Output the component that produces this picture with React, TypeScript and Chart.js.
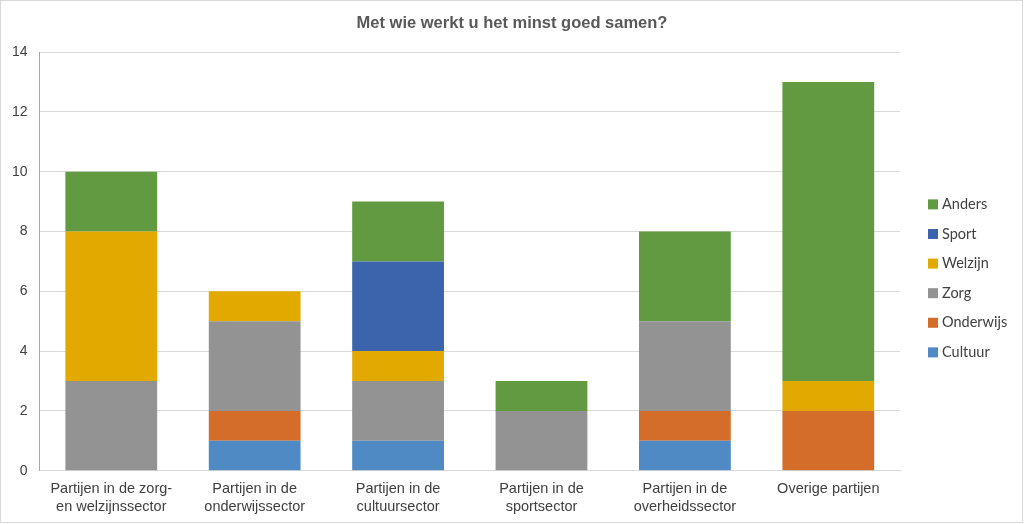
import React, { useEffect, useRef } from "react";
import { Chart, registerables } from "chart.js";

Chart.register(...registerables);

const categories: (string | string[])[] = [
  ["Partijen in de zorg-", "en welzijnssector"],
  ["Partijen in de", "onderwijssector"],
  ["Partijen in de", "cultuursector"],
  ["Partijen in de", "sportsector"],
  ["Partijen in de", "overheidssector"],
  "Overige partijen",
];

const cultuur = [0, 1, 1, 0, 1, 0];
const onderwijs = [0, 1, 0, 0, 1, 2];
const zorg = [3, 3, 2, 2, 3, 0];
const welzijn = [5, 1, 1, 0, 0, 1];
const sport = [0, 0, 3, 0, 0, 0];
const anders = [2, 0, 2, 1, 3, 10];

const title = "Met wie werkt u het minst goed samen?";

const borderPlugin = {
  id: "outerBorder",
  afterDraw(chart: any) {
    const ctx = chart.ctx;
    ctx.save();
    ctx.strokeStyle = "#d9d9d9";
    ctx.lineWidth = 1;
    ctx.strokeRect(0.5, 0.5, chart.width - 2, chart.height - 2);
    ctx.restore();
  },
};

const titlePlugin = {
  id: "centerTitle",
  afterDraw(chart: any) {
    const ctx = chart.ctx;
    ctx.save();
    ctx.font = "bold 16.5px 'Liberation Sans', Arial";
    ctx.fillStyle = "#595959";
    ctx.textAlign = "center";
    ctx.textBaseline = "middle";
    ctx.fillText(title, chart.width / 2, 23);
    ctx.restore();
  },
};

const legendPlugin = {
  id: "sideLegend",
  afterDraw(chart: any) {
    const ctx = chart.ctx;
    const area = chart.chartArea;
    const items = chart.data.datasets.slice().reverse();
    const spacing = 29.6;
    const centerY = (area.top + area.bottom) / 2 + 17;
    const startY = centerY - ((items.length - 1) * spacing) / 2;
    const x = area.right + 28;
    ctx.save();
    ctx.font = "14.5px Lato, 'Open Sans', sans-serif";
    ctx.textBaseline = "middle";
    ctx.textAlign = "left";
    items.forEach((ds: any, i: number) => {
      const y = startY + i * spacing;
      ctx.fillStyle = ds.backgroundColor;
      ctx.fillRect(x, y - 5, 10, 10);
      ctx.fillStyle = "#404040";
      ctx.fillText(ds.label, x + 14, y);
    });
    ctx.restore();
  },
};

export default function App() {
  const ref = useRef<HTMLCanvasElement>(null);
  useEffect(() => {
    if (!ref.current) return;
    const mk = (label: string, data: number[], color: string) => ({
      label,
      data,
      backgroundColor: color,
      borderWidth: 0,
      barPercentage: 0.64,
      categoryPercentage: 1,
    });
    const chart = new Chart(ref.current, {
      type: "bar",
      data: {
        labels: categories,
        datasets: [
          mk("Cultuur", cultuur, "#4f8ac4"),
          mk("Onderwijs", onderwijs, "#d46c2a"),
          mk("Zorg", zorg, "#939393"),
          mk("Welzijn", welzijn, "#e2aa00"),
          mk("Sport", sport, "#3b64ad"),
          mk("Anders", anders, "#629a41"),
        ],
      },
      options: {
        animation: false,
        responsive: false,
        layout: { padding: { left: 0, right: 124, top: 52, bottom: 7 } },
        plugins: {
          title: { display: false },
          legend: { display: false },
          tooltip: { enabled: false },
        },
        scales: {
          x: {
            stacked: true,
            grid: { display: false },
            border: { color: "#d9d9d9" },
            ticks: {
              color: "#404040",
              font: { family: "'Liberation Sans', Arial", size: 14.5, lineHeight: 1.25 },
              maxRotation: 0,
              autoSkip: false,
              padding: 1,
            },
          },
          y: {
            stacked: true,
            min: 0,
            max: 14,
            ticks: {
              stepSize: 2,
              color: "#404040",
              font: { family: "'Liberation Sans', Arial", size: 14 },
              padding: 12,
            },
            grid: { color: "#d9d9d9", drawTicks: false },
            border: { color: "#a6a6a6" },
          },
        },
      },
      plugins: [borderPlugin, titlePlugin, legendPlugin],
    });
    return () => chart.destroy();
  }, []);
  return (
    <div style={{ position: "absolute", left: 0, top: 0, width: 1024, height: 524, background: "#fff" }}>
      <canvas ref={ref} width={1024} height={524} style={{ display: "block" }} />
    </div>
  );
}
